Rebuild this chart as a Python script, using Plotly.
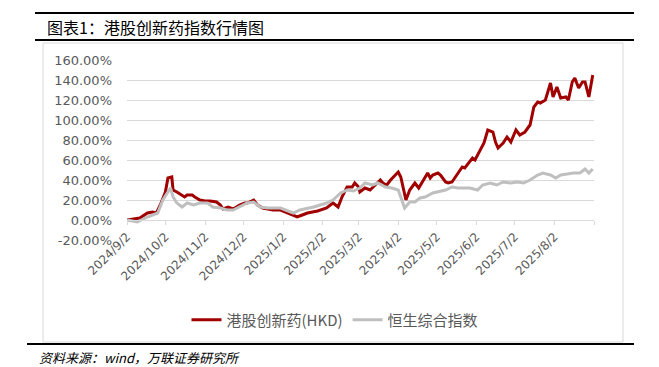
import plotly.graph_objects as go

red_dates = ["2024-09-02","2024-09-12","2024-09-18","2024-09-22","2024-09-25","2024-09-28","2024-10-02","2024-10-04","2024-10-07","2024-10-08","2024-10-11","2024-10-15","2024-10-17","2024-10-19","2024-10-23","2024-10-25","2024-10-29","2024-11-02","2024-11-06","2024-11-11","2024-11-14","2024-11-16","2024-11-20","2024-11-24","2024-11-29","2024-12-03","2024-12-05","2024-12-10","2024-12-13","2024-12-17","2024-12-25","2024-12-31","2025-01-05","2025-01-13","2025-01-17","2025-01-21","2025-01-29","2025-02-05","2025-02-10","2025-02-14","2025-02-17","2025-02-21","2025-02-25","2025-02-27","2025-03-02","2025-03-03","2025-03-07","2025-03-11","2025-03-15","2025-03-19","2025-03-21","2025-03-24","2025-03-27","2025-03-29","2025-04-02","2025-04-04","2025-04-06","2025-04-08","2025-04-11","2025-04-15","2025-04-18","2025-04-21","2025-04-25","2025-04-27","2025-04-29","2025-05-03","2025-05-05","2025-05-09","2025-05-11","2025-05-14","2025-05-18","2025-05-22","2025-05-24","2025-05-27","2025-05-30","2025-06-01","2025-06-04","2025-06-08","2025-06-11","2025-06-15","2025-06-17","2025-06-19","2025-06-23","2025-06-26","2025-06-29","2025-07-03","2025-07-06","2025-07-10","2025-07-14","2025-07-17","2025-07-20","2025-07-22","2025-07-26","2025-07-30","2025-08-01","2025-08-04","2025-08-07","2025-08-11","2025-08-13","2025-08-16","2025-08-18","2025-08-21","2025-08-24","2025-08-26","2025-08-29","2025-08-31","2025-09-01"]
red_values = [0,2,7,8,7,15,28,42,43,30,28,25,23,25,25,23,20,19,19,18,15,11,13,11,15,17,17,20,15,12,10,10,7,3,5,7,9,12,17,13,23,33,33,37,33,28,32,30,35,40,37,35,40,43,48,43,30,20,30,37,32,38,47,42,45,47,45,38,37,38,45,53,52,57,62,60,67,77,90,88,78,72,77,83,78,90,85,88,95,113,118,117,120,137,123,133,122,123,120,138,142,132,138,138,123,138,145]

gray_dates = ["2024-09-02","2024-09-10","2024-09-18","2024-09-22","2024-09-26","2024-09-30","2024-10-06","2024-10-08","2024-10-11","2024-10-15","2024-10-19","2024-10-24","2024-10-29","2024-11-04","2024-11-08","2024-11-14","2024-11-19","2024-11-24","2024-11-29","2024-12-05","2024-12-10","2024-12-15","2024-12-21","2024-12-31","2025-01-10","2025-01-15","2025-01-26","2025-02-05","2025-02-10","2025-02-16","2025-02-21","2025-02-26","2025-03-03","2025-03-07","2025-03-13","2025-03-17","2025-03-23","2025-03-28","2025-04-02","2025-04-05","2025-04-07","2025-04-11","2025-04-15","2025-04-19","2025-04-23","2025-04-29","2025-05-03","2025-05-09","2025-05-14","2025-05-19","2025-05-24","2025-05-28","2025-06-03","2025-06-07","2025-06-13","2025-06-18","2025-06-23","2025-06-29","2025-07-04","2025-07-09","2025-07-14","2025-07-20","2025-07-24","2025-07-30","2025-08-03","2025-08-07","2025-08-12","2025-08-17","2025-08-22","2025-08-26","2025-08-29","2025-09-01"]
gray_values = [0,-2,3,5,7,20,32,23,17,13,17,15,17,17,13,12,10,10,13,17,18,13,12,12,7,10,13,17,20,27,30,29,32,37,35,37,33,32,30,20,12,18,18,22,23,27,28,30,33,32,32,32,30,35,37,35,38,37,38,37,40,45,47,45,42,45,46,47,47,51,47,51]

series_names = ["港股创新药(HKD)", "恒生综合指数"]
tick_dates = ["2024-09-02","2024-10-02","2024-11-02","2024-12-02","2025-01-02","2025-02-02","2025-03-02","2025-04-02","2025-05-02","2025-06-02","2025-07-02","2025-08-02","2025-09-02"]
tick_labels = ["2024/9/2","2024/10/2","2024/11/2","2024/12/2","2025/1/2","2025/2/2","2025/3/2","2025/4/2","2025/5/2","2025/6/2","2025/7/2","2025/8/2",""]
y_ticks = [-20,0,20,40,60,80,100,120,140,160]
y_labels = ["%.2f%%" % v for v in y_ticks]

title_text = "图表1：港股创新药指数行情图"
source_text = "资料来源：wind，万联证券研究所"

W, H = 659, 367
OFF = 8  # page body margin
# plot area in window pixels
L, R, T, B = 127, 594, 60, 240
def px(x): return (x - L) / (R - L)
def py(y): return (B - y) / (B - T)

fig = go.Figure()
fig.add_trace(go.Scatter(x=red_dates, y=red_values, mode="lines", name=series_names[0],
                         line=dict(color="#A00000", width=3)))
fig.add_trace(go.Scatter(x=gray_dates, y=gray_values, mode="lines", name=series_names[1],
                         line=dict(color="#BFBFBF", width=3)))

font_main = "Noto Sans CJK SC, DejaVu Sans, sans-serif"
fig.update_layout(
    width=W, height=H,
    margin=dict(l=L - OFF, r=W - (R - OFF), t=T - OFF, b=H - (B - OFF), pad=0, autoexpand=False),
    paper_bgcolor="white", plot_bgcolor="white",
    font=dict(family=font_main, color="#595959"),
    showlegend=True,
    legend=dict(orientation="h", x=px(335), y=py(320), xanchor="center", yanchor="middle",
                font=dict(size=15, color="#595959", family=font_main), itemwidth=30,
                bgcolor="rgba(0,0,0,0)"),
    xaxis=dict(type="date", range=["2024-09-02", "2025-09-02"], tickvals=tick_dates, ticktext=tick_labels,
               tickangle=-45, anchor="free", position=1/9, showgrid=False, showline=True,
               linecolor="#D9D9D9", linewidth=1, ticks="outside", ticklen=4, tickcolor="#D9D9D9",
               tickfont=dict(size=12, color="#595959", family="DejaVu Sans, sans-serif"),
               zeroline=False, automargin=False),
    yaxis=dict(range=[-20, 160], tickvals=y_ticks, ticktext=y_labels, showgrid=True,
               gridcolor="#D9D9D9", gridwidth=1, zeroline=False, showline=False,
               ticks="", ticklabelstandoff=14, automargin=False,
               tickfont=dict(size=13, color="#595959", family="DejaVu Sans, sans-serif")),
)

shapes = [
    dict(type="rect", xref="paper", yref="paper", x0=px(43), x1=px(623), y0=py(342), y1=py(43),
         line=dict(color="#D9D9D9", width=1), layer="below"),
    dict(type="line", xref="paper", yref="paper", x0=px(35), x1=px(634), y0=py(13), y1=py(13),
         line=dict(color="black", width=2)),
    dict(type="line", xref="paper", yref="paper", x0=px(35), x1=px(634), y0=py(40), y1=py(40),
         line=dict(color="black", width=2)),
    dict(type="line", xref="paper", yref="paper", x0=px(27), x1=px(634), y0=py(344), y1=py(344),
         line=dict(color="black", width=2)),
]
fig.update_layout(shapes=shapes)

fig.add_annotation(text=title_text, xref="paper", yref="paper", x=px(45), y=py(27),
                   xanchor="left", yanchor="middle", showarrow=False,
                   font=dict(size=16, color="black", family=font_main))
fig.add_annotation(text="<i>" + source_text + "</i>", xref="paper", yref="paper", x=px(37), y=py(357),
                   xanchor="left", yanchor="middle", showarrow=False,
                   font=dict(size=13, color="black", family=font_main))

fig.write_html("out.html")
